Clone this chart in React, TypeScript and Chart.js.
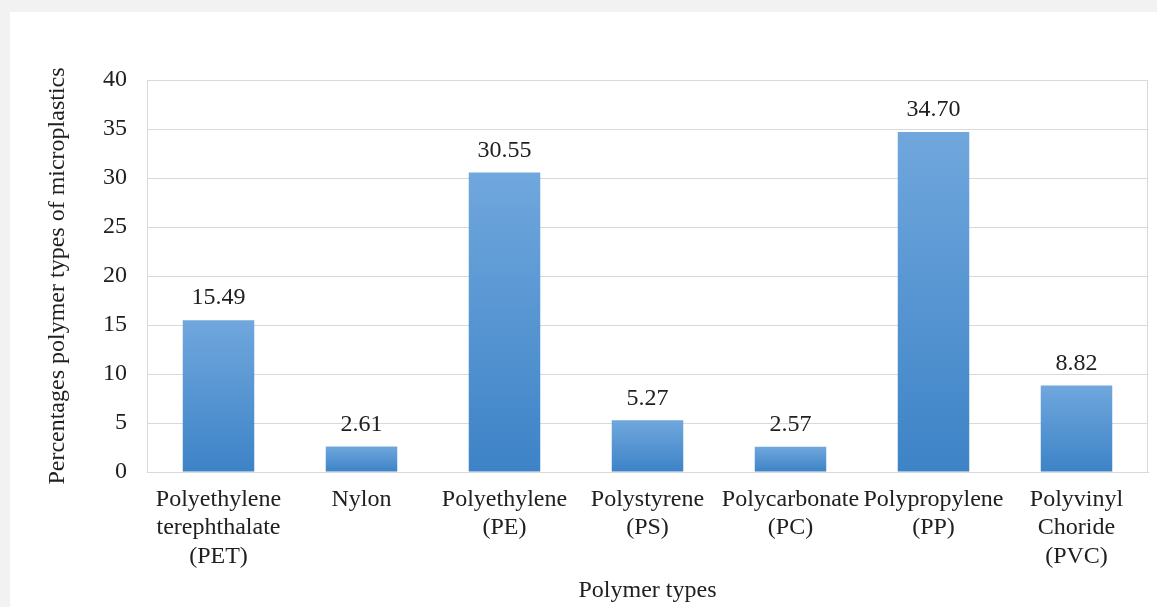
import React, { useEffect, useRef } from "react";
import { Chart, registerables } from "chart.js";

Chart.register(...registerables);

// Polymer categories (multi-line axis labels)
const categories: string[][] = [
  ["Polyethylene", "terephthalate", "(PET)"],
  ["Nylon"],
  ["Polyethylene", "(PE)"],
  ["Polystyrene", "(PS)"],
  ["Polycarbonate", "(PC)"],
  ["Polypropylene", "(PP)"],
  ["Polyvinyl", "Choride", "(PVC)"],
];

// Share of each polymer type among the microplastics (%)
const percentages: number[] = [15.49, 2.61, 30.55, 5.27, 2.57, 34.7, 8.82];

const yTicks = { min: 0, max: 40, step: 5 };

const FONT_FAMILY = "'Liberation Serif', 'Times New Roman', serif";
const FONT_SIZE = 24;
const TEXT_COLOR = "#202020";
const GRID_COLOR = "#d9d9d9";
const BAR_TOP = "#70a7dd";
const BAR_BOTTOM = "#3d83c7";

const W = 1147;
const H = 595;

// Draws the value above each bar
const valueLabels = {
  id: "valueLabels",
  afterDatasetsDraw(chart: any) {
    const ctx = chart.ctx;
    const meta = chart.getDatasetMeta(0);
    ctx.save();
    ctx.font = `${FONT_SIZE}px ${FONT_FAMILY}`;
    ctx.fillStyle = TEXT_COLOR;
    ctx.textAlign = "center";
    ctx.textBaseline = "middle";
    meta.data.forEach((bar: any, i: number) => {
      const v = chart.data.datasets[0].data[i] as number;
      ctx.fillText(v.toFixed(2), bar.x, bar.y - 22);
    });
    ctx.restore();
  },
};

// Left and right edges of the plot frame
const plotFrame = {
  id: "plotFrame",
  beforeDatasetsDraw(chart: any) {
    const { ctx, chartArea } = chart;
    ctx.save();
    ctx.strokeStyle = GRID_COLOR;
    ctx.lineWidth = 1;
    ctx.beginPath();
    const l = Math.round(chartArea.left) + 0.5;
    const r = Math.round(chartArea.right) - 0.5;
    ctx.moveTo(l, chartArea.top);
    ctx.lineTo(l, chartArea.bottom);
    ctx.moveTo(r, chartArea.top);
    ctx.lineTo(r, chartArea.bottom);
    ctx.stroke();
    ctx.restore();
  },
};

export default function App() {
  const canvasRef = useRef<HTMLCanvasElement | null>(null);

  useEffect(() => {
    if (!canvasRef.current) return;
    const font = { family: FONT_FAMILY, size: FONT_SIZE, lineHeight: 1.2 };
    const chart = new Chart(canvasRef.current, {
      type: "bar",
      data: {
        labels: categories,
        datasets: [
          {
            data: percentages,
            backgroundColor: (ctx: any) => {
              const chart = ctx.chart;
              if (!chart.chartArea || ctx.type !== "data") return BAR_BOTTOM;
              const y = chart.scales.y;
              const top = y.getPixelForValue(ctx.raw);
              const base = y.getPixelForValue(0);
              const g = chart.ctx.createLinearGradient(0, top, 0, base);
              g.addColorStop(0, BAR_TOP);
              g.addColorStop(1, BAR_BOTTOM);
              return g;
            },
            borderWidth: 0,
            barPercentage: 0.5,
            categoryPercentage: 1,
          },
        ],
      },
      options: {
        responsive: false,
        animation: false,
        layout: { padding: { top: 68, right: 9, left: 0, bottom: 0 } },
        plugins: {
          legend: { display: false },
          tooltip: { enabled: false },
        },
        scales: {
          x: {
            grid: { display: false, drawTicks: false },
            border: { display: true, color: GRID_COLOR },
            ticks: {
              font,
              color: TEXT_COLOR,
              padding: 13,
              maxRotation: 0,
              autoSkip: false,
            },
            title: {
              display: true,
              text: "Polymer types",
              font,
              color: TEXT_COLOR,
              padding: { top: 0, bottom: 2 },
            },
            afterFit: (scale: any) => {
              scale.height = 135;
            },
          },
          y: {
            min: yTicks.min,
            max: yTicks.max,
            grid: { color: GRID_COLOR, drawTicks: false },
            border: { display: true, color: GRID_COLOR },
            ticks: {
              stepSize: yTicks.step,
              font,
              color: TEXT_COLOR,
              padding: 20,
            },
            title: {
              display: true,
              text: "Percentages polymer types of microplastics",
              font,
              color: TEXT_COLOR,
              padding: { top: 33, bottom: 0 },
            },
            afterFit: (scale: any) => {
              scale.width = 137;
            },
          },
        },
      },
      plugins: [plotFrame, valueLabels],
    });
    return () => chart.destroy();
  }, []);

  return (
    <div style={{ position: "fixed", inset: 0, background: "#f2f2f2" }}>
      <div
        style={{
          position: "absolute",
          left: 10,
          top: 12,
          width: W,
          height: H,
          background: "#ffffff",
        }}
      >
        <canvas ref={canvasRef} width={W} height={H} style={{ display: "block" }} />
      </div>
    </div>
  );
}
